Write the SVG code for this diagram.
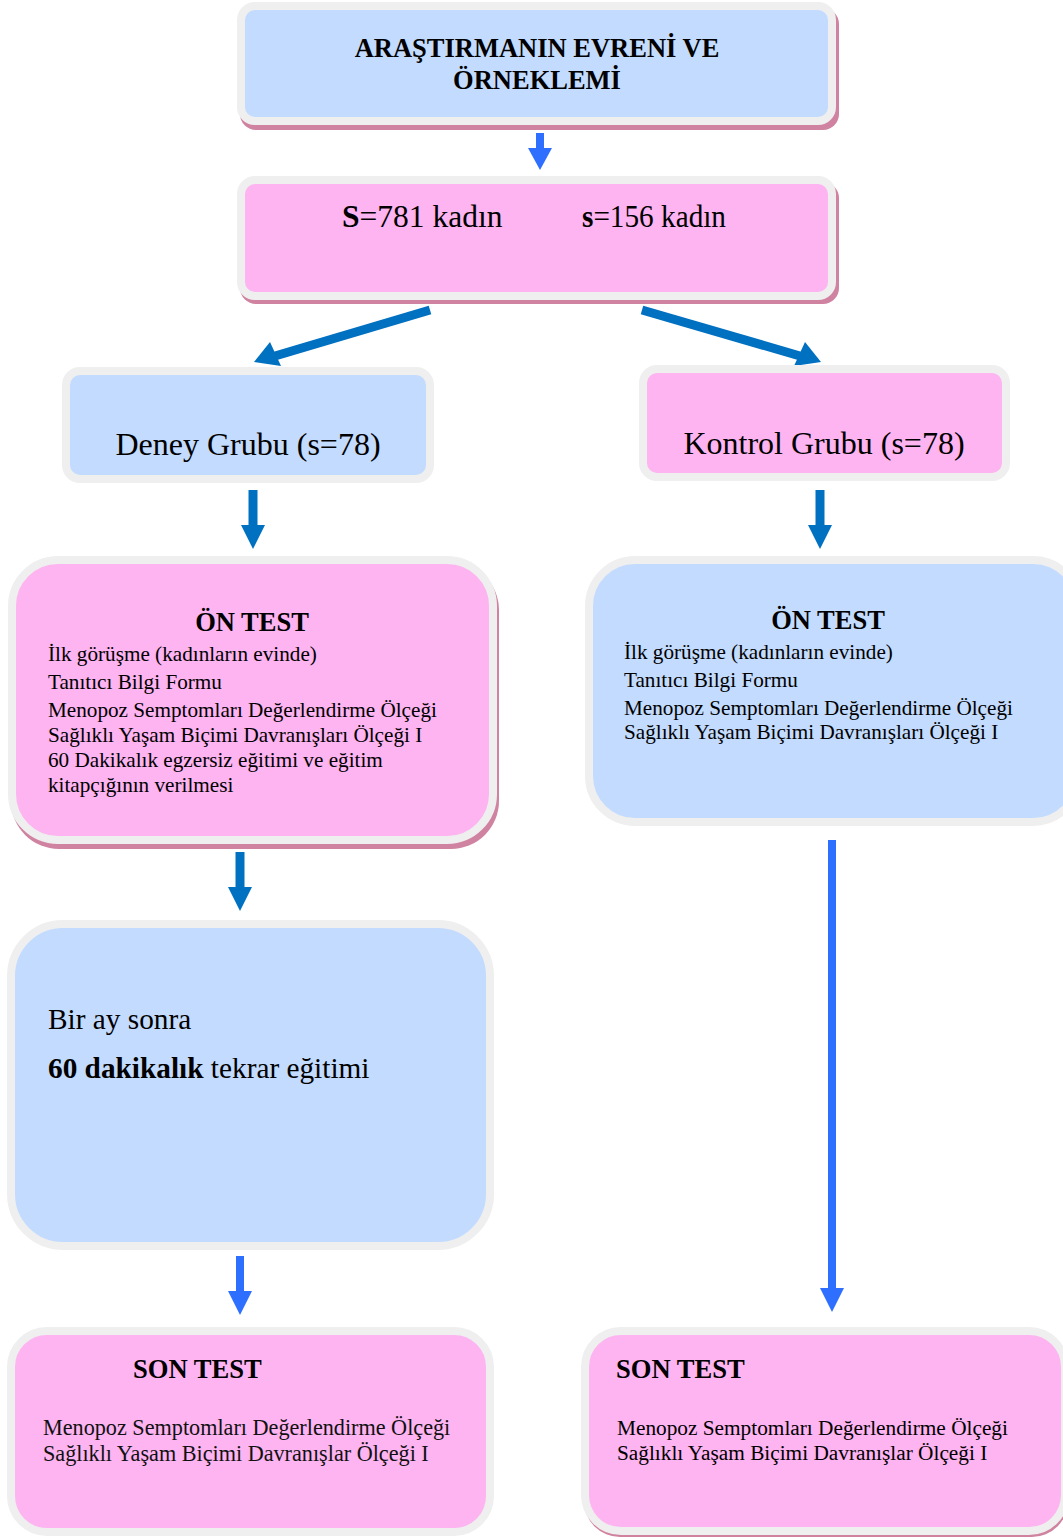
<svg xmlns="http://www.w3.org/2000/svg" width="1063" height="1539" viewBox="0 0 1063 1539">
<style>
.blue{fill:#C3DBFE;stroke:#EFEFEF;stroke-width:8}
.pink{fill:#FDB4F1;stroke:#EFEFEF;stroke-width:8}
.shadow{fill:#D083A0}
.t{font-family:"Liberation Serif","Times New Roman",serif;fill:#000}
.b{font-weight:bold}
.c{font-family:"Liberation Serif",Cambria,serif;fill:#111}
.dk{stroke:#0070C0;stroke-width:9;fill:none}
.bk{stroke:#2F6FFF;stroke-width:8;fill:none}
.dkh{fill:#0070C0}
.bkh{fill:#2F6FFF}
</style>
<rect width="1063" height="1539" fill="#FFFFFF"/>

<g id="connectors">
  <line class="bk" x1="540" y1="133" x2="540" y2="150"/>
  <polygon class="bkh" points="528,148 552,148 540,170"/>
  <line class="dk" x1="430" y1="310" x2="275" y2="356"/>
  <polygon class="dkh" points="254,362 270,342 281,366"/>
  <line class="dk" x1="642" y1="310" x2="800" y2="356"/>
  <polygon class="dkh" points="821,362 805,342 794,366"/>
  <line class="dk" x1="253" y1="490" x2="253" y2="527"/>
  <polygon class="dkh" points="241,525 265,525 253,549"/>
  <line class="dk" x1="820" y1="490" x2="820" y2="527"/>
  <polygon class="dkh" points="808,525 832,525 820,549"/>
  <line class="dk" x1="240" y1="852" x2="240" y2="889"/>
  <polygon class="dkh" points="228,887 252,887 240,911"/>
  <line class="bk" x1="240" y1="1256" x2="240" y2="1293"/>
  <polygon class="bkh" points="228,1291 252,1291 240,1315"/>
  <line class="bk" x1="832" y1="840" x2="832" y2="1290"/>
  <polygon class="bkh" points="820,1288 844,1288 832,1312"/>
</g>

<g id="node-evren">
  <rect class="shadow" x="240" y="8" width="599" height="122" rx="16"/>
  <rect class="blue" x="241" y="6" width="591" height="115" rx="14"/>
  <text class="t b" x="537" y="57" font-size="26.5" text-anchor="middle">ARAŞTIRMANIN EVRENİ VE</text>
  <text class="t b" x="537" y="89" font-size="26.5" text-anchor="middle">ÖRNEKLEMİ</text>
</g>

<g id="node-orneklem">
  <rect class="shadow" x="240" y="182" width="599" height="122" rx="16"/>
  <rect class="pink" x="241" y="180" width="591" height="116" rx="14"/>
  <text class="t" x="342" y="227" font-size="31.5"><tspan class="b">S</tspan>=781 kadın</text>
  <text class="t" x="582" y="227" font-size="31.5" textLength="144" lengthAdjust="spacingAndGlyphs"><tspan class="b">s</tspan>=156 kadın</text>
</g>

<g id="node-deney">
  <rect class="blue" x="66" y="371" width="364" height="108" rx="14"/>
  <text class="t" x="248" y="455" font-size="32" text-anchor="middle">Deney Grubu (s=78)</text>
</g>

<g id="node-kontrol">
  <rect class="pink" x="643" y="369" width="363" height="108" rx="14"/>
  <text class="t" x="824" y="454" font-size="32" text-anchor="middle">Kontrol Grubu (s=78)</text>
</g>

<g id="node-ontest-deney">
  <rect class="shadow" x="11" y="562" width="488" height="287" rx="48"/>
  <rect class="pink" x="12" y="560" width="481" height="280" rx="46"/>
  <text class="t b" x="252" y="631" font-size="26.5" text-anchor="middle">ÖN TEST</text>
  <g class="t" font-size="21.2">
    <text x="48" y="661">İlk görüşme (kadınların evinde)</text>
    <text x="48" y="689">Tanıtıcı Bilgi Formu</text>
    <text x="48" y="717">Menopoz Semptomları Değerlendirme Ölçeği</text>
    <text x="48" y="742">Sağlıklı Yaşam Biçimi Davranışları Ölçeği I</text>
    <text x="48" y="767">60 Dakikalık egzersiz eğitimi ve eğitim</text>
    <text x="48" y="792">kitapçığının verilmesi</text>
  </g>
</g>

<g id="node-ontest-kontrol">
  <rect class="blue" x="589" y="560" width="490" height="262" rx="46"/>
  <text class="t b" x="828" y="629" font-size="26.5" text-anchor="middle">ÖN TEST</text>
  <g class="t" font-size="21.2">
    <text x="624" y="659">İlk görüşme (kadınların evinde)</text>
    <text x="624" y="687">Tanıtıcı Bilgi Formu</text>
    <text x="624" y="715">Menopoz Semptomları Değerlendirme Ölçeği</text>
    <text x="624" y="739">Sağlıklı Yaşam Biçimi Davranışları Ölçeği I</text>
  </g>
</g>

<g id="node-tekrar">
  <rect class="blue" x="11" y="924" width="479" height="322" rx="52"/>
  <text class="t" x="48" y="1029" font-size="29.3">Bir ay sonra</text>
  <text class="t" x="48" y="1078" font-size="29.3"><tspan class="b">60 dakikalık</tspan> tekrar eğitimi</text>
</g>

<g id="node-sontest-deney">
  <rect class="pink" x="11" y="1331" width="479" height="201" rx="36"/>
  <text class="t b" x="133" y="1378" font-size="26.6">SON TEST</text>
  <g class="c" font-size="22.2">
    <text x="43" y="1435">Menopoz Semptomları Değerlendirme Ölçeği</text>
    <text x="43" y="1461">Sağlıklı Yaşam Biçimi Davranışlar Ölçeği I</text>
  </g>
</g>

<g id="node-sontest-kontrol">
  <rect class="shadow" x="584" y="1333" width="484" height="204" rx="36"/>
  <rect class="pink" x="585" y="1331" width="480" height="200" rx="36"/>
  <text class="t b" x="616" y="1378" font-size="26.6">SON TEST</text>
  <g class="t" font-size="21.3">
    <text x="617" y="1435">Menopoz Semptomları Değerlendirme Ölçeği</text>
    <text x="617" y="1460">Sağlıklı Yaşam Biçimi Davranışlar Ölçeği I</text>
  </g>
</g>
</svg>
